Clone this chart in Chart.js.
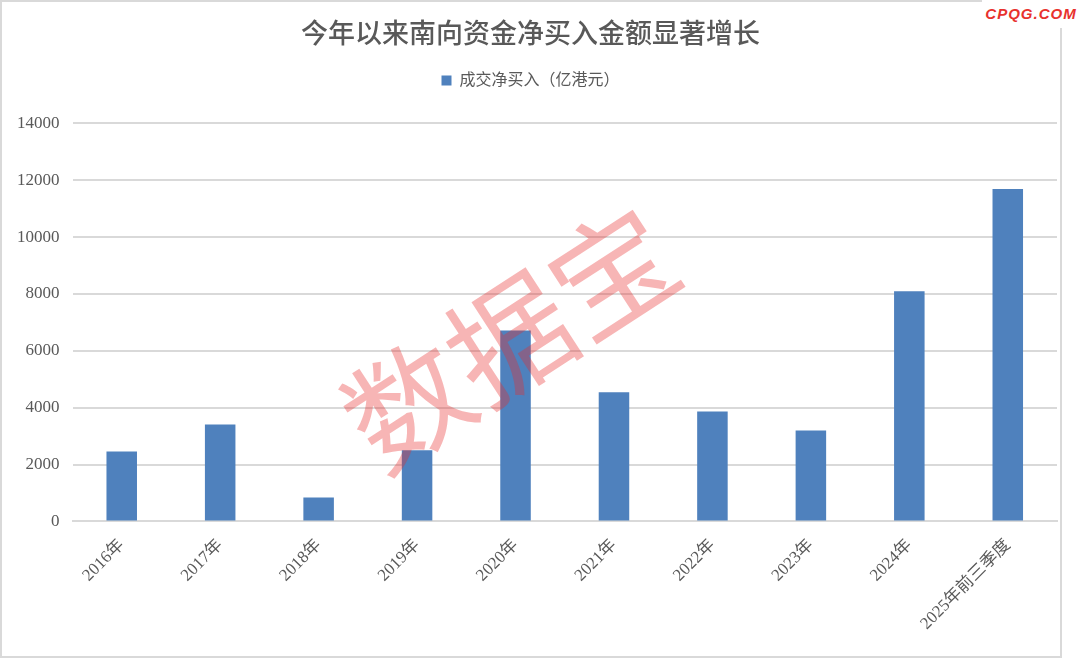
<!DOCTYPE html>
<html>
<head>
<meta charset="utf-8">
<script src="https://cdn.jsdelivr.net/npm/chart.js@4.4.0/dist/chart.umd.min.js"></script>
<style>
    html, body { margin: 0; padding: 0; background: #fff; }
    #wrap { position: relative; width: 1080px; height: 659px; }
    #frame { position: absolute; left: 0; top: 0; width: 1058px; height: 654px; border: 2px solid #d9d9d9; box-sizing: content-box; pointer-events: none; }
    #logo { position: absolute; left: 982px; top: 0; width: 98px; height: 28px; background: #fff; color: #e8322d;
            font: italic bold 15px 'Liberation Sans', Arial, sans-serif; letter-spacing: 1px; line-height: 28px; text-align: center; }
    canvas { position: absolute; left: 0; top: 0; }
</style>
</head>
<body>
<div id="wrap">
    <canvas id="myChart" width="1080" height="659"></canvas>
    <div id="frame"></div>
    <div id="logo">CPQG.COM</div>
</div>
<script>
// Datos
const categorias = ['2016年', '2017年', '2018年', '2019年', '2020年', '2021年', '2022年', '2023年', '2024年', '2025年前三季度'];
const compraNeta = [2460, 3410, 845, 2500, 6720, 4540, 3870, 3200, 8100, 11690];
const serieNombre = '成交净买入（亿港元）';
const tituloTexto = '今年以来南向资金净买入金额显著增长';
const marcaAgua = '数据宝';

const gris = '#595959';
const fuente = "'Liberation Serif', 'Noto Sans CJK SC', serif";

// Marca de agua por encima de las barras
const marcaAguaPlugin = {
    id: 'marcaAgua',
    afterDatasetsDraw(chart) {
        const c = chart.ctx;
        c.save();
        c.translate(510, 338);
        c.rotate(-33 * Math.PI / 180);
        c.font = "122px 'Noto Sans CJK SC', sans-serif";
        c.fillStyle = 'rgba(232, 44, 44, 0.35)';
        c.textAlign = 'center';
        c.textBaseline = 'middle';
        c.fillText(marcaAgua, 0, 0);
        c.restore();
    }
};

// Espacio extra bajo la leyenda
const margenLeyenda = {
    id: 'margenLeyenda',
    beforeInit(chart) {
        const fitOriginal = chart.legend.fit;
        chart.legend.fit = function () {
            fitOriginal.bind(chart.legend)();
            this.height += 25;
        };
    }
};

const ctx = document.getElementById('myChart').getContext('2d');
new Chart(ctx, {
    type: 'bar',
    data: {
        labels: categorias,
        datasets: [{
            label: serieNombre,
            data: compraNeta,
            backgroundColor: '#4f81bd',
            categoryPercentage: 1,
            barPercentage: 0.31
        }]
    },
    options: {
        responsive: false,
        animation: false,
        layout: { padding: { left: 4, right: 23, top: 12, bottom: 11 } },
        scales: {
            x: {
                grid: { display: false, drawTicks: false },
                border: { color: '#d9d9d9', width: 2 },
                ticks: {
                    color: gris,
                    font: { family: fuente, size: 17 },
                    minRotation: 45,
                    maxRotation: 45,
                    padding: 14
                }
            },
            y: {
                min: 0,
                max: 14000,
                ticks: {
                    stepSize: 2000,
                    color: gris,
                    padding: 13,
                    font: { family: fuente, size: 17 },
                    callback: v => String(v)
                },
                grid: { color: '#d9d9d9', lineWidth: 2, drawTicks: false },
                border: { display: false }
            }
        },
        plugins: {
            title: {
                display: true,
                text: tituloTexto,
                color: gris,
                font: { family: fuente, size: 27, weight: '500' },
                padding: { top: 8, bottom: 12 }
            },
            legend: {
                display: true,
                labels: {
                    color: gris,
                    font: { family: fuente, size: 16 },
                    boxWidth: 10,
                    boxHeight: 10,
                    padding: 8
                }
            },
            tooltip: { enabled: false }
        }
    },
    plugins: [marcaAguaPlugin, margenLeyenda]
});
</script>
</body>
</html>
